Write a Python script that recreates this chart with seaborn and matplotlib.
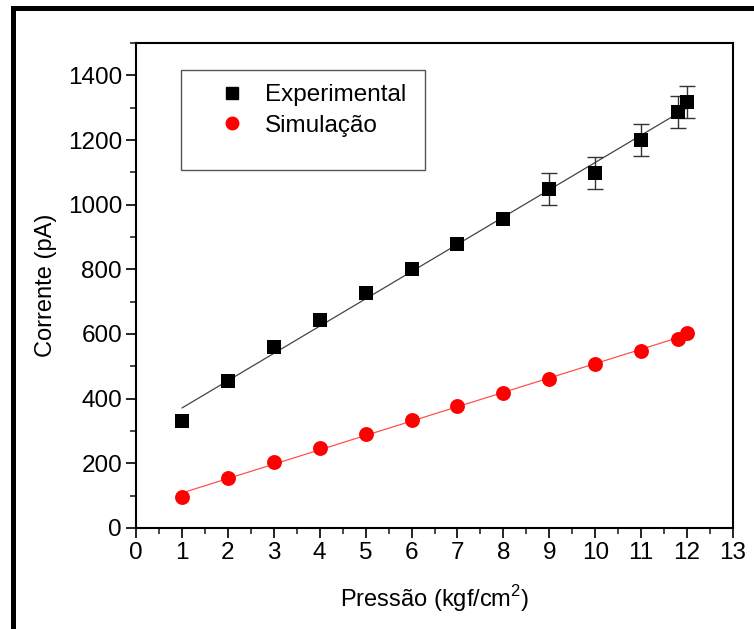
import numpy as np
import pandas as pd
import seaborn as sns
import matplotlib
matplotlib.use("Agg")
import matplotlib.pyplot as plt
from matplotlib.patches import Rectangle
from matplotlib.lines import Line2D
from matplotlib.ticker import MultipleLocator

pressure = [1, 2, 3, 4, 5, 6, 7, 8, 9, 10, 11, 11.8, 12]
experimental = [330, 456, 561, 644, 728, 802, 879, 956, 1048, 1098, 1199, 1287, 1317]
exp_err = [0, 0, 0, 0, 0, 0, 0, 0, 50, 50, 50, 50, 50]
simulation = [96, 154, 204, 247, 290, 333, 376, 419, 462, 506, 546, 586, 604]

xlabel = "Pressão (kgf/cm$^2$)"
ylabel = "Corrente (pA)"
labels = ["Experimental", "Simulação"]

sns.set_theme(style="ticks")
plt.rcParams["font.family"] = ["Liberation Sans", "DejaVu Sans"]
plt.rcParams["mathtext.fontset"] = "custom"
plt.rcParams["mathtext.rm"] = "Liberation Sans"

df = pd.DataFrame({"p": pressure, "exp": experimental, "err": exp_err, "sim": simulation})

fig = plt.figure(figsize=(7.54, 6.29), dpi=100)
ax = fig.add_axes([136/754, 1-528/629, (733-136)/754, (528-43)/629])

# fit lines
sns.regplot(data=df, x="p", y="exp", ci=None, scatter=False, ax=ax,
            line_kws=dict(color="#444444", lw=0.9), truncate=True)
sns.regplot(data=df, x="p", y="sim", ci=None, scatter=False, ax=ax,
            line_kws=dict(color="#ff5050", lw=0.9), truncate=True)

# error bars
m = df["err"] > 0
ax.errorbar(df.loc[m, "p"], df.loc[m, "exp"], yerr=df.loc[m, "err"], fmt="none",
            ecolor="#333333", elinewidth=1.0, capsize=6, capthick=1.0, zorder=3)

sns.scatterplot(data=df, x="p", y="exp", marker="s", color="black", s=90,
                edgecolor="black", linewidth=0, ax=ax, zorder=4)
sns.scatterplot(data=df, x="p", y="sim", marker="o", color="#ff0000", s=115,
                edgecolor="#ff0000", linewidth=0, ax=ax, zorder=4)

ax.set_xlim(0, 13)
ax.set_ylim(0, 1500)
ax.xaxis.set_major_locator(MultipleLocator(1))
ax.xaxis.set_minor_locator(MultipleLocator(0.5))
ax.yaxis.set_major_locator(MultipleLocator(200))
ax.yaxis.set_minor_locator(MultipleLocator(100))
ax.tick_params(which="major", direction="out", length=7, width=1.2, labelsize=17.5,
               colors="black", pad=3)
ax.tick_params(which="minor", direction="out", length=4, width=1.2)
for s in ax.spines.values():
    s.set_linewidth(1.5)
    s.set_color("black")
ax.set_xlabel(xlabel, fontsize=17, labelpad=14, color="black")
ax.set_ylabel(ylabel, fontsize=17, labelpad=8, color="black")

# legend box
ax.add_patch(Rectangle(((181-136)/597, (528-170)/485), (425-181)/597, (170-70)/485,
                       transform=ax.transAxes, fill=False, edgecolor="#555555", lw=1.0, zorder=5))
handles = [Line2D([], [], marker="s", color="black", ls="none", markersize=8),
           Line2D([], [], marker="o", color="#ff0000", ls="none", markersize=9)]
leg = ax.legend(handles, labels, loc="upper left", bbox_to_anchor=((202-136)/597, (528-72)/485),
                frameon=False, fontsize=17.5, handletextpad=0.6, labelspacing=0.35,
                borderpad=0, handlelength=1.5)
for t in leg.get_texts():
    t.set_color("black")

# figure frame
fig.add_artist(Rectangle((11/754, 0), 5/754, 1-8/629, transform=fig.transFigure,
                         color="black", lw=0))
fig.add_artist(Rectangle((11/754, 1-11/629), 1, 5/629, transform=fig.transFigure,
                         color="black", lw=0))

fig.savefig("out.png", dpi=100)
